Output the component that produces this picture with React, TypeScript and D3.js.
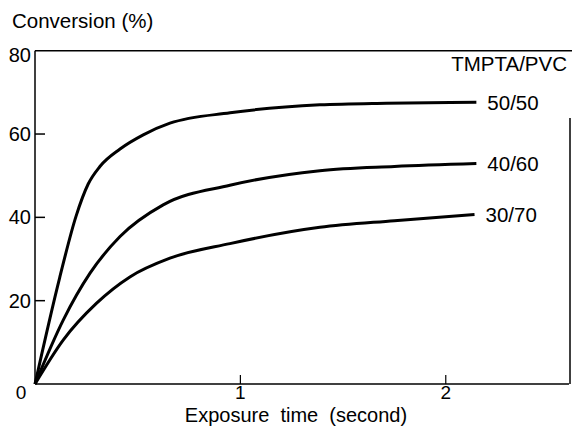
import React from "react";
import * as d3 from "d3";

const seriesNames = ["50/50", "40/60", "30/70"];
const s5050: [number, number][] = [
  [0, 0], [0.12, 25.5], [0.2, 40.3], [0.259, 48], [0.316, 52.2], [0.414, 56.4],
  [0.527, 59.8], [0.657, 62.6], [0.95, 65.1], [1.387, 67], [1.711, 67.4], [2.149, 67.6],
];
const s4060: [number, number][] = [
  [0, 0], [0.138, 15.4], [0.268, 26.6], [0.414, 35.4], [0.624, 43], [0.949, 47.7],
  [1.387, 51.2], [1.75, 52.2], [2.149, 52.9],
];
const s3070: [number, number][] = [
  [0, 0], [0.138, 10.6], [0.3, 19.4], [0.462, 25.7], [0.657, 30.2], [0.949, 33.7],
  [1.387, 37.6], [1.75, 39.2], [2.14, 40.7],
];
const seriesData = [s5050, s4060, s3070];
const xTicks = [0, 1, 2];
const yTicks = [0, 20, 40, 60, 80];

export default function App() {
  const W = 572, H = 426;
  const x = d3.scaleLinear().domain([0, 2.6]).range([35, 569]);
  const y = d3.scaleLinear().domain([0, 80]).range([384, 50.7]);
  const line = d3.line<[number, number]>()
    .x((d) => x(d[0]))
    .y((d) => y(d[1]))
    .curve(d3.curveMonotoneX);
  const font = "'Liberation Sans', Arial, Helvetica, sans-serif";
  const fs = 20.5;
  const tfs = 20;
  return (
    <svg width={W} height={H} style={{ position: "absolute", left: 0, top: 0, background: "#fff" }}
      fontFamily={font}>
      <rect width={W} height={H} fill="#fff" />
      <line x1={x(0)} x2={x(0)} y1={y(80)} y2={y(0)} stroke="#000" strokeWidth={1.5} />
      <line x1={x(0)} x2={569} y1={y(0)} y2={y(0)} stroke="#000" strokeWidth={1.5} />
      <line x1={x(0)} x2={572} y1={y(80)} y2={y(80)} stroke="#000" strokeWidth={1.5} />
      <line x1={570} x2={570} y1={118} y2={y(0)} stroke="#000" strokeWidth={1.5} />
      {yTicks.map((t) => (
        <g key={"y" + t}>
          {t > 0 && t < 80 && (
            <line x1={x(0)} x2={x(0) + 10} y1={y(t)} y2={y(t)} stroke="#000" strokeWidth={1.5} />
          )}
          {t > 0 && (
            <text x={31} y={y(t) + (t === 80 ? 4 : 0)} dy="0.35em" textAnchor="end" fontSize={tfs}>{t}</text>
          )}
        </g>
      ))}
      {xTicks.map((t) => (
        <g key={"x" + t}>
          {t > 0 && (
            <line x1={x(t)} x2={x(t)} y1={y(0)} y2={y(0) - 9} stroke="#000" strokeWidth={1.2} />
          )}
          <text x={t === 0 ? 21 : x(t)} y={399} textAnchor="middle" fontSize={19}>{t}</text>
        </g>
      ))}
      <text x={12} y={28} fontSize={fs}>Conversion (%)</text>
      <text x={296} y={421.7} textAnchor="middle" fontSize={20} style={{ whiteSpace: "pre" }}>
        {"Exposure  time  (second)"}
      </text>
      <text x={567} y={71} textAnchor="end" fontSize={fs}>TMPTA/PVC</text>
      {seriesData.map((s, i) => (
        <g key={seriesNames[i]}>
          <path d={line(s) || ""} fill="none" stroke="#000" strokeWidth={3} strokeLinejoin="round" />
          <text x={x(s[s.length - 1][0]) + 11} y={y(s[s.length - 1][1])} dy="0.35em" fontSize={fs}>
            {seriesNames[i]}
          </text>
        </g>
      ))}
    </svg>
  );
}
